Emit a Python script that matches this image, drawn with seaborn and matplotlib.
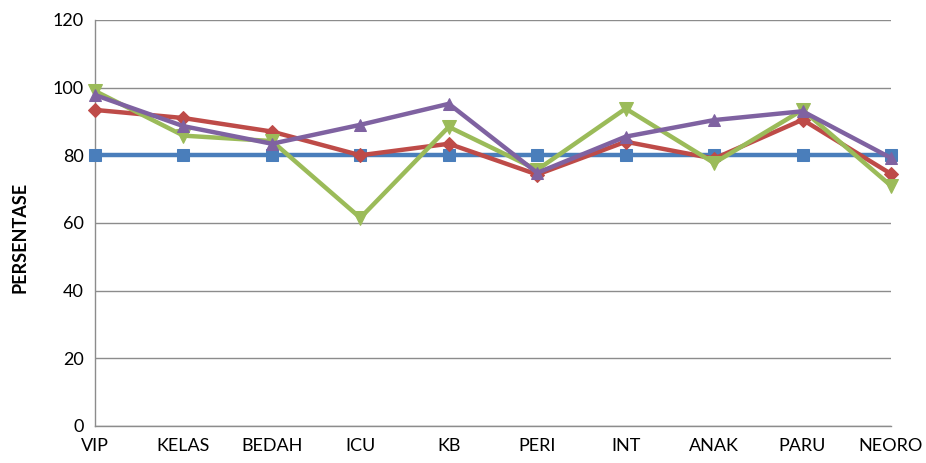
import matplotlib
matplotlib.use("Agg")
import matplotlib.pyplot as plt
import numpy as np
import pandas as pd
import seaborn as sns

# Data
categories = ["VIP", "KELAS", "BEDAH", "ICU", "KB", "PERI", "INT", "ANAK", "PARU", "NEORO"]
target = [80, 80, 80, 80, 80, 80, 80, 80, 80, 80]
series_red = [93.4, 91.0, 87.0, 80.0, 83.4, 74.3, 84.0, 79.0, 90.5, 74.5]
series_green = [99.0, 85.8, 84.2, 61.5, 88.4, 75.7, 93.8, 77.7, 93.4, 71.0]
series_purple = [97.8, 88.6, 83.4, 89.0, 95.2, 74.8, 85.5, 90.4, 93.0, 79.2]
yticks = [0, 20, 40, 60, 80, 100, 120]

sns.set_theme(style="white")
plt.rcParams["font.family"] = ["Lato", "DejaVu Sans"]

x = np.arange(len(categories))
df = pd.DataFrame({"pos": x, "target": target, "red": series_red,
                   "green": series_green, "purple": series_purple})

fig = plt.figure(figsize=(9.26, 4.63), dpi=100)
ax = fig.add_axes([0.1026, 0.080, 0.8596, 0.877])

styles = [
    ("target", "#4A7EBB", "s", 8.5),
    ("red", "#BE4B48", "D", 7),
    ("green", "#9BBB59", "v", 9.5),
    ("purple", "#7F62A1", "^", 9),
]
for col, color, marker, ms in styles:
    sns.lineplot(data=df, x="pos", y=col, ax=ax, color=color, linewidth=3.2,
                 marker=marker, markersize=ms, markeredgecolor=color,
                 clip_on=False, zorder=3)

ax.set_xlim(0, len(categories) - 1)
ax.set_ylim(0, 120)
ax.set_yticks(yticks)
ax.set_xticks(x)
ax.set_xticklabels(categories)
ax.yaxis.grid(True, color="#8C8C8C", linewidth=1)
ax.xaxis.grid(False)

for side in ["top", "right"]:
    ax.spines[side].set_visible(False)
for side in ["left", "bottom"]:
    ax.spines[side].set_color("#8C8C8C")
    ax.spines[side].set_linewidth(1)

ax.tick_params(axis="both", which="both", direction="out", length=5,
               width=1, color="#8C8C8C", labelsize=13, labelcolor="black", pad=3)
ax.tick_params(axis="x", pad=4)

ax.set_xlabel("")
ax.set_ylabel("")
# y axis title drawn in figure coords so its size/weight stick
fig.text(0.0215, 0.488, "PERSENTASE", rotation=90, ha="center", va="center",
         fontsize=13, fontweight="bold", family=["Lato", "DejaVu Sans"],
         color="black")

fig.savefig("out.png", dpi=100)
